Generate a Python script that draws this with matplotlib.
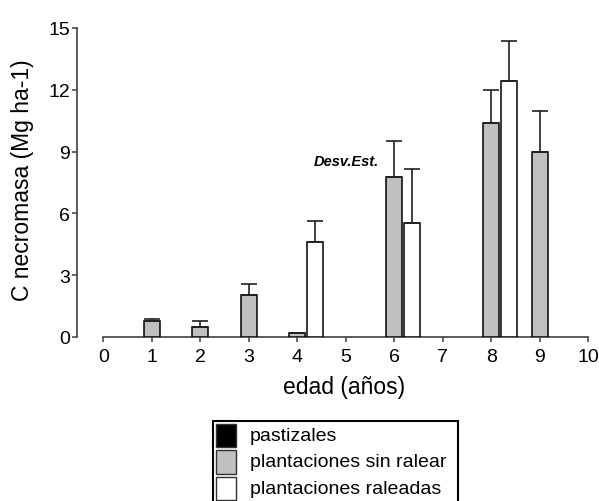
import numpy as np
import matplotlib
matplotlib.use("Agg")
import matplotlib.pyplot as plt
from matplotlib.patches import Rectangle

plt.rcParams['font.family'] = ['Liberation Sans', 'DejaVu Sans']

# Datos
edad_sin = [1, 2, 3, 4, 6, 8, 9]
c_sin = [0.76, 0.50, 2.02, 0.17, 7.75, 10.4, 9.0]
de_sin = [0.12, 0.26, 0.57, 0.0, 1.78, 1.6, 1.98]

edad_ral = [4, 6, 8]
c_ral = [4.6, 5.55, 12.43]
de_ral = [1.05, 2.6, 1.95]

etiquetas = ["pastizales", "plantaciones sin ralear", "plantaciones raleadas"]
colores = ["black", "#c0c0c0", "white"]

W, H = 599, 502
fig = plt.figure(figsize=(W / 100, H / 100), dpi=100)
ax = fig.add_axes([77 / W, 1 - 338 / H, (588.3 - 77) / W, (338 - 29) / H])


def px(x, y):
    # pixel (desde arriba a la izquierda) -> coordenadas de figura
    return x / W, 1 - y / H


ancho = 0.33
desp = 0.37
ekw = dict(elinewidth=1.2, capthick=1.2, ecolor="#202020")

ax.bar(edad_sin, c_sin, width=ancho, color=colores[1], edgecolor="black",
       linewidth=1.1, yerr=[np.zeros(len(de_sin)), de_sin], capsize=5.8,
       error_kw=ekw, zorder=3)
ax.bar(np.array(edad_ral) + desp, c_ral, width=ancho, color=colores[2],
       edgecolor="black", linewidth=1.1,
       yerr=[np.zeros(len(de_ral)), de_ral], capsize=5.8,
       error_kw=ekw, zorder=3)

ax.set_xlim(-0.54, 10.0)
ax.set_ylim(0, 15)
ax.set_xticks(range(0, 11))
ax.set_yticks(range(0, 16, 3))

for s in ["top", "right"]:
    ax.spines[s].set_visible(False)
ax.spines["left"].set_bounds(0, 15)
ax.spines["bottom"].set_bounds(0, 10)
for s in ["left", "bottom"]:
    ax.spines[s].set_color("#404040")
    ax.spines[s].set_linewidth(1.2)

ax.tick_params(axis="both", labelsize=14, length=3.6, width=1.1,
               color="#404040", direction="out")
ax.tick_params(axis="x", pad=4)
ax.tick_params(axis="y", pad=1.5)

ax.text(5.02, 8.55, "Desv.Est.", ha="center", va="center",
        fontsize=10.5, fontweight="bold", fontstyle="italic")

fig.text(*px(23, 180), "C necromasa (Mg ha-1)", rotation=90,
         ha="center", va="center", fontsize=16.5)
fig.text(*px(344, 388), "edad (años)", ha="center", va="center",
         fontsize=16.5)

# Leyenda (caja que sigue fuera del borde inferior)
x0, y0 = px(212.7, 421.7)
x1, y1 = px(458, 515)
fig.patches.append(Rectangle((x0, y1), x1 - x0, y0 - y1, transform=fig.transFigure,
                             facecolor="white", edgecolor="black",
                             linewidth=1.5, clip_on=False))
for i, (lab, col) in enumerate(zip(etiquetas, colores)):
    top = 425 + i * 26.5
    ax_, ay_ = px(215.5, top + 23)
    bx_, by_ = px(236.5, top)
    fig.patches.append(Rectangle((ax_, ay_), bx_ - ax_, by_ - ay_,
                                 transform=fig.transFigure, facecolor=col,
                                 edgecolor="#303030", linewidth=1.0))
    fig.text(*px(250, top + 11.5), lab, ha="left", va="center", fontsize=14)

fig.savefig("out.png", dpi=100)
